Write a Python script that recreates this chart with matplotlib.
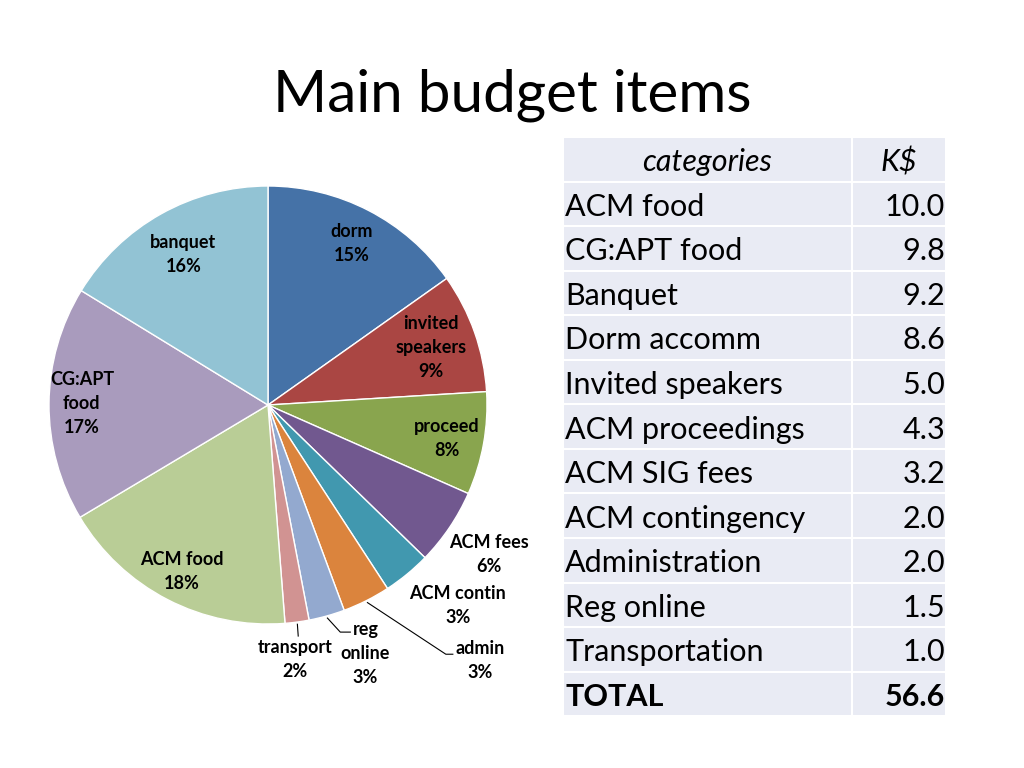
import numpy as np
import matplotlib
matplotlib.use('Agg')
import matplotlib.pyplot as plt
from matplotlib.patches import Rectangle

plt.rcParams['font.family'] = ['Lato', 'DejaVu Sans']

# pie data (clockwise from the top)
pie_names = ['dorm', 'invited\nspeakers', 'proceed', 'ACM fees', 'ACM contin',
             'admin', 'reg\nonline', 'transport', 'ACM food', 'CG:APT\nfood',
             'banquet']
pie_values = [8.6, 5.0, 4.3, 3.2, 2.0, 2.0, 1.5, 1.0, 10.0, 9.8, 9.2]
pie_pcts = ['15%', '9%', '8%', '6%', '3%', '3%', '3%', '2%', '18%', '17%', '16%']
pie_colors = ['#4572A7', '#AA4643', '#89A54E', '#71588F', '#4198AF',
              '#DB843D', '#93A9CF', '#D19392', '#B9CD96', '#A99BBD', '#92C3D4']

# table data
table_cats = ['ACM food', 'CG:APT food', 'Banquet', 'Dorm accomm',
              'Invited speakers', 'ACM proceedings', 'ACM SIG fees',
              'ACM contingency', 'Administration', 'Reg online',
              'Transportation']
table_vals = [10.0, 9.8, 9.2, 8.6, 5.0, 4.3, 3.2, 2.0, 2.0, 1.5, 1.0]
table_total = 56.6

W, H = 1024, 768
fig = plt.figure(figsize=(W / 100, H / 100), dpi=100)

# --- pie --------------------------------------------------------------
R = 219.0          # pie radius in px
cx, cy = 268, 405  # pie centre in px (from top)
half_w, half_h = 268, 340
ax = fig.add_axes([(cx - half_w) / W, (H - cy - half_h) / H,
                   2 * half_w / W, 2 * half_h / H])

wedges, _ = ax.pie(pie_values, colors=pie_colors, startangle=90,
                   counterclock=False, radius=1.0,
                   wedgeprops=dict(edgecolor='white', linewidth=1.0))
# pie() resets the limits, so set them afterwards
ax.set_xlim(-half_w / R, half_w / R)
ax.set_ylim(-half_h / R, half_h / R)
ax.set_aspect('equal')
ax.axis('off')

# label placement: distance from centre along the mid angle
label_dist = [0.83, 0.79, 0.83, 1.22, 1.26, None, None, None, 0.855, 0.85, 0.79]
# small angle nudges (deg, clockwise positive) for a few labels
label_nudge = {4: -4.0, 2: 0.6}
# leader-line labels: text centre, elbow point, end point (in radius units)
leaders = {
    5: ((0.968, -1.165), (0.812, -1.138), (0.844, -1.138)),
    6: ((0.445, -1.133), (0.330, -1.037), (0.376, -1.037)),
    7: ((0.124, -1.161), (0.138, -1.055), (0.138, -1.055)),
}

lab_kw = dict(ha='center', va='center', fontsize=13, fontweight='bold',
              linespacing=1.5, color='black')
for i, w in enumerate(wedges):
    mid = np.deg2rad((w.theta1 + w.theta2) / 2 - label_nudge.get(i, 0.0))
    text = pie_names[i] + '\n' + pie_pcts[i]
    if label_dist[i] is not None:
        d = label_dist[i]
        ax.text(d * np.cos(mid), d * np.sin(mid), text, **lab_kw)
    else:
        (tx, ty), (ex, ey), (fx, fy) = leaders[i]
        sx, sy = 1.01 * np.cos(mid), 1.01 * np.sin(mid)
        ax.plot([sx, ex, fx], [sy, ey, fy], color='black', lw=0.8)
        ax.text(tx, ty, text, **lab_kw)

# --- title + table ----------------------------------------------------
bg = fig.add_axes([0, 0, 1, 1], zorder=-1)
bg.set_xlim(0, W)
bg.set_ylim(H, 0)
bg.axis('off')

bg.text(512, 95, 'Main budget items', ha='center', va='center', fontsize=42)

x0, x1, x2 = 563, 852, 946
y0, row_h = 137, 44.55
cell_bg = '#E9EBF4'
rows = [('categories', 'K$')] + \
       [(c, f'{v:.1f}') for c, v in zip(table_cats, table_vals)] + \
       [('TOTAL', f'{table_total:.1f}')]
for r, (cat, val) in enumerate(rows):
    top = y0 + r * row_h
    bg.add_patch(Rectangle((x0, top), x1 - x0, row_h, facecolor=cell_bg,
                           edgecolor='white', lw=1.5))
    bg.add_patch(Rectangle((x1, top), x2 - x1, row_h, facecolor=cell_bg,
                           edgecolor='white', lw=1.5))
    ymid = top + row_h / 2 + 3
    if r == 0:
        bg.text((x0 + x1) / 2, ymid, cat, ha='center', va='center',
                fontsize=22, style='italic')
        bg.text((x1 + x2) / 2, ymid, val, ha='center', va='center',
                fontsize=22, style='italic')
    else:
        weight = 'bold' if cat == 'TOTAL' else 'normal'
        bg.text(x0 + 2, ymid, cat, ha='left', va='center', fontsize=22,
                fontweight=weight)
        bg.text(x2 - 1, ymid, val, ha='right', va='center', fontsize=22,
                fontweight=weight)

fig.savefig('out.png', dpi=100, facecolor='white')
